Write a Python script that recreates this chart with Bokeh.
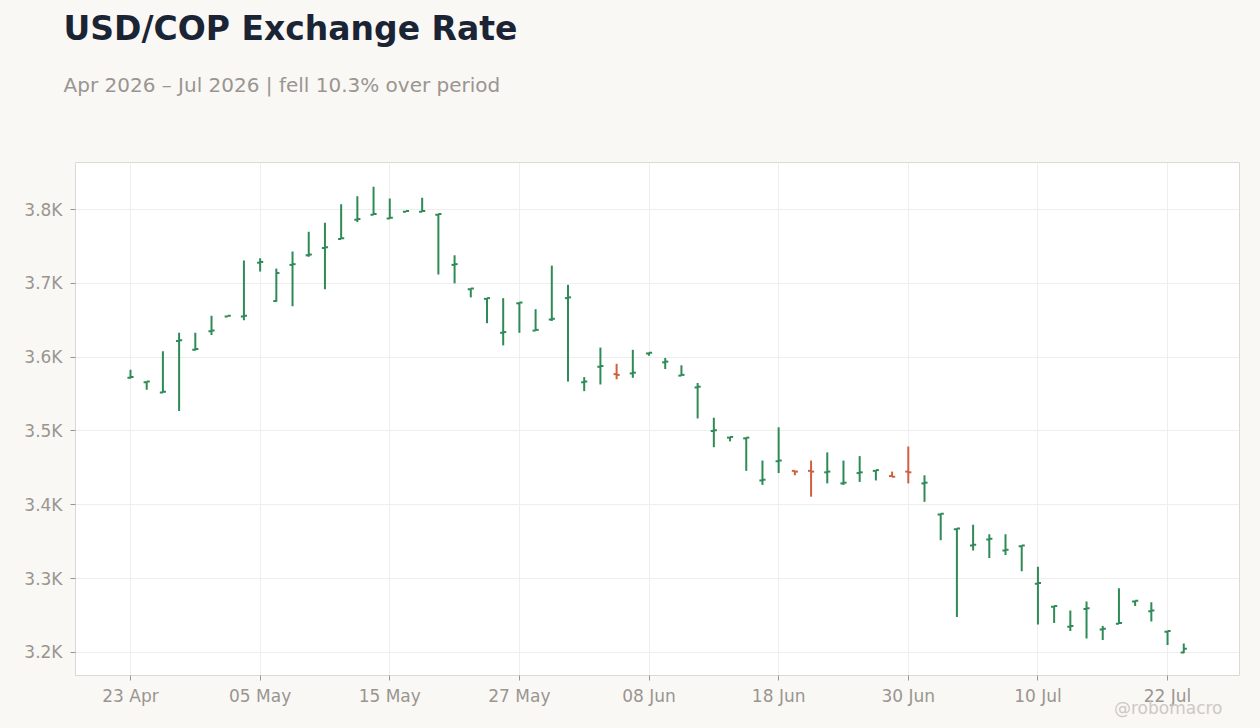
import pandas as pd
from bokeh.plotting import figure
from bokeh.models import Range1d, FixedTicker, Title
from bokeh.embed import file_html
from bokeh.resources import INLINE

# daily OHLC, business days from 23 Apr 2026
start_date = "2026-04-23"
opens = [3572, 3566, 3552, 3622, 3610, 3635, 3655, 3655, 3728, 3676,
         3725, 3738, 3748, 3760, 3786, 3793, 3788, 3797, 3797, 3793,
         3725, 3692, 3679, 3633, 3673, 3636, 3651, 3680, 3566, 3587,
         3577, 3578, 3605, 3593, 3575, 3559, 3500, 3491, 3490, 3433,
         3459, 3446, 3446, 3444, 3429, 3443, 3446, 3439, 3445, 3429,
         3387, 3367, 3345, 3353, 3338, 3344, 3293, 3262, 3235, 3259,
         3231, 3239, 3269, 3256, 3228, 3200]
highs = [3583, 3567, 3608, 3633, 3633, 3656, 3656, 3731, 3734, 3720,
         3743, 3770, 3782, 3807, 3818, 3831, 3815, 3798, 3816, 3794,
         3738, 3693, 3680, 3680, 3674, 3665, 3724, 3698, 3573, 3613,
         3591, 3610, 3606, 3599, 3589, 3565, 3518, 3492, 3491, 3460,
         3505, 3446, 3460, 3471, 3460, 3466, 3447, 3445, 3479, 3440,
         3388, 3368, 3373, 3360, 3360, 3345, 3316, 3263, 3257, 3269,
         3236, 3287, 3270, 3268, 3229, 3212]
lows = [3571, 3556, 3552, 3527, 3609, 3630, 3655, 3650, 3716, 3675,
        3669, 3736, 3692, 3760, 3783, 3793, 3788, 3797, 3797, 3712,
        3700, 3681, 3646, 3616, 3633, 3636, 3649, 3567, 3554, 3563,
        3570, 3572, 3602, 3584, 3575, 3517, 3478, 3486, 3446, 3427,
        3443, 3440, 3411, 3429, 3427, 3431, 3433, 3438, 3429, 3404,
        3352, 3248, 3338, 3328, 3332, 3310, 3238, 3240, 3229, 3219,
        3217, 3239, 3263, 3242, 3210, 3199]
closes = [3573, 3567, 3553, 3623, 3611, 3636, 3656, 3656, 3729, 3714,
          3726, 3739, 3749, 3761, 3787, 3794, 3789, 3798, 3798, 3794,
          3726, 3693, 3680, 3634, 3674, 3637, 3652, 3681, 3567, 3588,
          3576, 3579, 3606, 3594, 3576, 3560, 3501, 3492, 3491, 3434,
          3460, 3445, 3445, 3445, 3430, 3444, 3447, 3438, 3444, 3430,
          3388, 3368, 3346, 3354, 3339, 3345, 3294, 3263, 3236, 3260,
          3232, 3240, 3270, 3257, 3229, 3205]
y_ticks = [3200, 3300, 3400, 3500, 3600, 3700, 3800]
y_labels = ["3.2K", "3.3K", "3.4K", "3.5K", "3.6K", "3.7K", "3.8K"]

UP = "#2e8b57"
DOWN = "#d0603f"
GRAY = "#9a9590"
BG = "#f9f8f5"

dates = pd.bdate_range(start_date, periods=len(opens))
idx = list(range(len(opens)))
colors = [UP if c >= o else DOWN for o, c in zip(opens, closes)]
x_ticks = idx[::8]

p = figure(width=1260, height=728, output_backend="svg", toolbar_location=None,
           x_range=Range1d(-3.394, 68.44), y_range=Range1d(3168.8, 3863.7),
           min_border_left=75, min_border_right=21, min_border_top=162,
           min_border_bottom=53)
p.background_fill_color = "white"
p.border_fill_color = BG
p.outline_line_color = "#ddd8d1"

w = 0.19
p.segment(idx, lows, idx, highs, line_color=colors, line_width=2)
p.segment([i - w for i in idx], opens, idx, opens, line_color=colors, line_width=2)
p.segment(idx, closes, [i + w for i in idx], closes, line_color=colors, line_width=2)

p.xaxis.ticker = FixedTicker(ticks=x_ticks)
p.xaxis.major_label_overrides = {i: dates[i].strftime("%d %b") for i in x_ticks}
p.yaxis.ticker = FixedTicker(ticks=y_ticks)
p.yaxis.major_label_overrides = dict(zip(y_ticks, y_labels))
for ax in (p.xaxis, p.yaxis):
    ax.axis_line_color = None
    ax.major_tick_line_color = GRAY
    ax.major_tick_in = 0
    ax.major_tick_out = 5
    ax.minor_tick_line_color = None
    ax.major_label_text_color = GRAY
    ax.major_label_text_font = "DejaVu Sans"
    ax.major_label_text_font_size = "17px"
p.xaxis.major_label_standoff = 5
p.yaxis.major_label_standoff = 8
p.grid.grid_line_color = "#eeeeee"
p.grid.grid_line_width = 1

# watermark below the axis, pulled up level with the tick labels
p.add_layout(Title(text="@robomacro", text_font="DejaVu Sans",
                   text_font_size="17px", text_font_style="normal",
                   text_color="#cdc9c4", align="right", offset=17,
                   vertical_align="top", standoff=-21), "below")

# titles: spacer nearest the frame, then subtitle, then main title
p.add_layout(Title(text=" ", text_font_size="2px", standoff=45), "above")
p.add_layout(Title(text="Apr 2026 \u2013 Jul 2026 | fell 10.3% over period",
                   text_font="DejaVu Sans", text_font_size="20px",
                   text_font_style="normal", text_color=GRAY,
                   align="left", offset=-12, vertical_align="top",
                   standoff=30), "above")
p.add_layout(Title(text="USD/COP Exchange Rate", text_font="DejaVu Sans",
                   text_font_size="33px", text_font_style="bold",
                   text_color="#1b2434", align="left", offset=-12,
                   vertical_align="top", standoff=16), "above")

html = file_html(p, INLINE)
html = html.replace("<body>", '<body style="background-color:%s;">' % BG)
open("out.html", "w").write(html)
